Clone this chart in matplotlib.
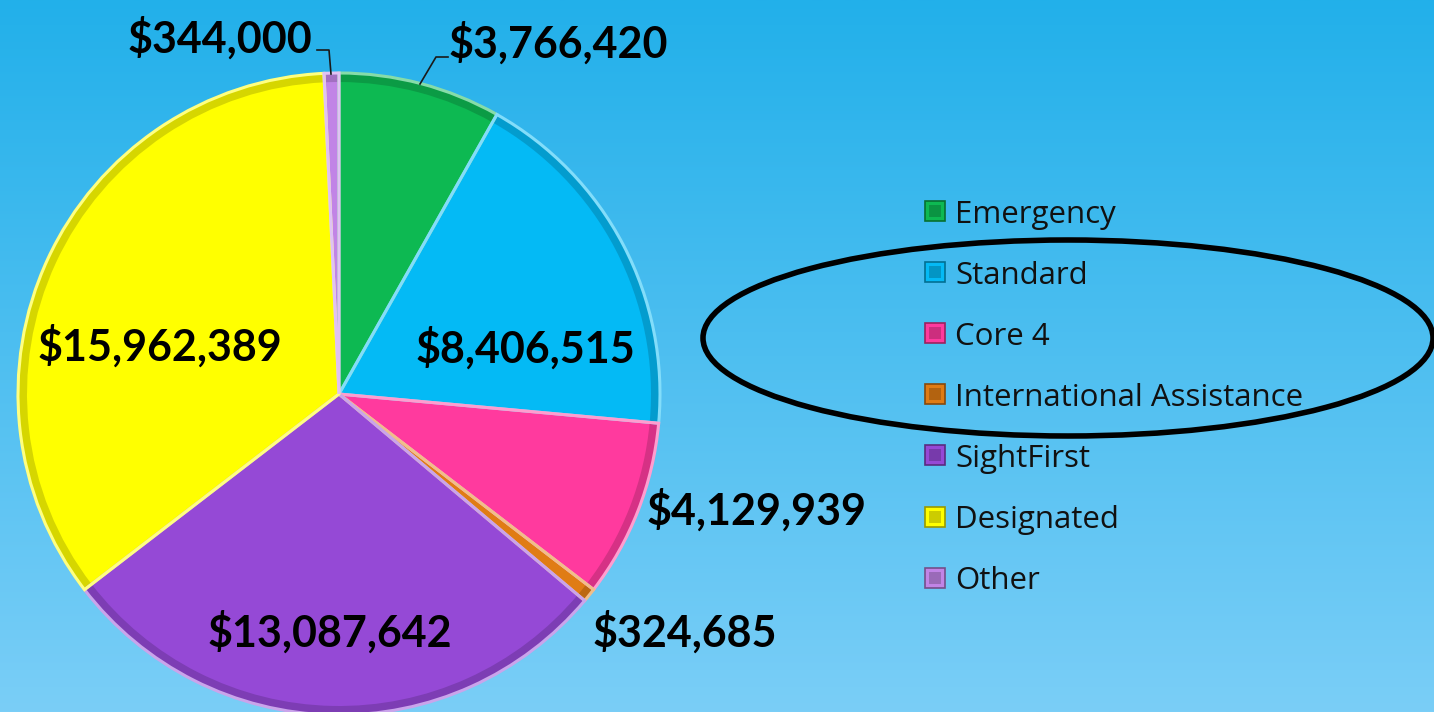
import numpy as np
import matplotlib
matplotlib.use("Agg")
import matplotlib.pyplot as plt
from matplotlib.patches import Ellipse, Wedge, Rectangle
from matplotlib.colors import LinearSegmentedColormap, to_rgb

categories = ["Emergency", "Standard", "Core 4", "International Assistance",
              "SightFirst", "Designated", "Other"]
values = [3766420, 8406515, 4129939, 324685, 13087642, 15962389, 344000]
value_labels = ["$3,766,420", "$8,406,515", "$4,129,939", "$324,685",
                "$13,087,642", "$15,962,389", "$344,000"]
colors = ["#0DB952", "#04BAF5", "#FF3A9E", "#E07C14", "#9549D6", "#FFFF00", "#C184E6"]

W, H = 1434, 712
fig = plt.figure(figsize=(W / 100, H / 100), dpi=100)

# background gradient
bg = fig.add_axes([0, 0, 1, 1], zorder=0)
grad = np.linspace(0, 1, 256).reshape(-1, 1)
cmap = LinearSegmentedColormap.from_list("bg", ["#22B0EA", "#7ACEF7"])
bg.imshow(grad, aspect="auto", cmap=cmap, extent=[0, 1, 0, 1], origin="upper")
bg.axis("off")

ax = fig.add_axes([0, 0, 1, 1], zorder=1)
ax.set_xlim(0, W)
ax.set_ylim(0, H)
ax.set_aspect("equal")
ax.axis("off")

cx, cy, R = 339, H - 394, 321


def darker(c, f=0.75):
    r, g, b = to_rgb(c)
    return (r * f, g * f, b * f)


def lighter(c, f=0.45):
    r, g, b = to_rgb(c)
    return (r + (1 - r) * f, g + (1 - g) * f, b + (1 - b) * f)


wedges, _ = ax.pie(values, colors=colors, startangle=90, counterclock=False,
                   center=(cx, cy), radius=R, frame=True,
                   wedgeprops=dict(edgecolor="none", linewidth=0))
for w, c in zip(wedges, colors):
    w.set_zorder(2)
    t1, t2 = w.theta1, w.theta2
    rim = Wedge((cx, cy), R, t1, t2, width=9, facecolor=darker(c, 0.84),
                edgecolor="none", zorder=3)
    ax.add_patch(rim)
    hi = Wedge((cx, cy), R, t1, t2, facecolor="none", edgecolor=lighter(c, 0.5),
               linewidth=2.2, zorder=4)
    ax.add_patch(hi)
ax.set_xlim(0, W)
ax.set_ylim(0, H)
ax.axis("off")

label_font = dict(family=["Lato", "DejaVu Sans"], fontweight="bold", color="black",
                  fontsize=31, ha="center", va="center", zorder=6)

# label positions (pixel coords, y from top)
label_pos = [(558, 43), (525, 348), (757, 510), (685, 632), (330, 632), (160, 346), (220, 38)]
for lab, (px, py) in zip(value_labels, label_pos):
    ax.text(px, H - py, lab, **label_font)

# leader lines
ax.plot([420, 436, 448], [H - 84, H - 57, H - 57], color="#1a1a1a", lw=1.2, zorder=6)
ax.plot([331, 329, 317], [H - 74, H - 50, H - 50], color="#1a1a1a", lw=1.2, zorder=6)

# legend (drawn manually)
leg_x, leg_y0, leg_dy, box = 925, 211, 61.1, 20
for i, (cat, c) in enumerate(zip(categories, colors)):
    yy = H - (leg_y0 + i * leg_dy)
    ax.add_patch(Rectangle((leg_x, yy - box / 2), box, box, facecolor=c,
                           edgecolor=darker(c, 0.6), linewidth=1.2, zorder=7))
    ax.add_patch(Rectangle((leg_x + 4, yy - box / 2 + 4), box - 8, box - 8,
                           facecolor=darker(c, 0.8), edgecolor="none", zorder=7))
    ax.text(leg_x + box + 10, yy, cat, family=["Open Sans", "DejaVu Sans"],
            fontsize=22.5, color="#111111", ha="left", va="center_baseline", zorder=7)

# ellipse annotation
ax.add_patch(Ellipse((1068, H - 338), 730, 196, facecolor="none",
                     edgecolor="black", linewidth=4, zorder=8, clip_on=False))

fig.savefig("out.png", dpi=100)
